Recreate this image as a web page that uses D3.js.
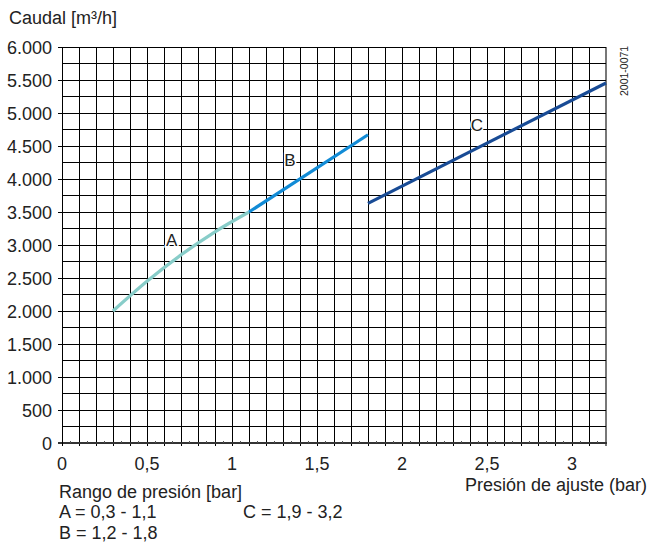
<!DOCTYPE html>
<html>
<head>
<meta charset="utf-8">
<script src="https://cdn.jsdelivr.net/npm/d3@7"></script>
<style>
body { margin: 0; background: #fff; }
text { font-family: "Liberation Sans", Arial, sans-serif; fill: #222; }
</style>
</head>
<body>
<div id="chart"></div>
<script>
// curve data
const curveA = [[0.3, 2000], [0.5, 2450], [0.7, 2850], [0.9, 3200], [1.1, 3500]];
const curveB = [[1.1, 3500], [1.8, 4670]];
const curveC = [[1.8, 3630], [3.2, 5455]];
const curveNames = ["A", "B", "C"];
const labelPos = [[0.645, 2990], [1.34, 4190], [2.44, 4730]];
const yTicks = [0, 500, 1000, 1500, 2000, 2500, 3000, 3500, 4000, 4500, 5000, 5500, 6000];
const xTicks = [0, 0.5, 1, 1.5, 2, 2.5, 3];

const W = 652, H = 542;
const svg = d3.select("#chart").append("svg").attr("width", W).attr("height", H);

const x = d3.scaleLinear().domain([0, 3.2]).range([62, 606]);
const y = d3.scaleLinear().domain([0, 6000]).range([443, 47]);

const grid = svg.append("g").attr("shape-rendering", "crispEdges");
// vertical grid every 0.1 bar
grid.selectAll(".vg").data(d3.range(1, 33).map(i => i / 10))
    .enter().append("line")
    .attr("x1", d => x(d)).attr("x2", d => x(d))
    .attr("y1", y(6000)).attr("y2", y(0) + 3)
    .attr("stroke", d => Math.abs(d - 3.2) < 1e-6 ? "#777" : "#000")
    .attr("stroke-width", d => Math.abs(d - 3.2) < 1e-6 ? 2 : 1);
// horizontal grid every 250
grid.selectAll(".hg").data(d3.range(1, 25).map(i => i * 250))
    .enter().append("line")
    .attr("x1", x(0)).attr("x2", x(3.2))
    .attr("y1", d => y(d)).attr("y2", d => y(d))
    .attr("stroke", "#000");
// left ticks at labelled values
grid.selectAll(".yt").data(yTicks)
    .enter().append("line")
    .attr("x1", x(0) - 4).attr("x2", x(0))
    .attr("y1", d => y(d)).attr("y2", d => y(d))
    .attr("stroke", "#000");
// bottom axis and small half ticks
grid.append("line").attr("x1", x(0) - 4).attr("x2", x(3.2) + 1)
    .attr("y1", y(0)).attr("y2", y(0)).attr("stroke", "#333").attr("stroke-width", 1.5);
grid.append("line").attr("x1", x(0)).attr("x2", x(0))
    .attr("y1", y(6000)).attr("y2", y(0) + 3).attr("stroke", "#000");
grid.selectAll(".mt").data(d3.range(0, 32).map(i => i / 10 + 0.05))
    .enter().append("line")
    .attr("x1", d => x(d)).attr("x2", d => x(d))
    .attr("y1", y(0) - 2).attr("y2", y(0))
    .attr("stroke", "#555");

// tick labels
svg.selectAll(".yl").data(yTicks)
    .enter().append("text")
    .attr("x", 52).attr("y", d => y(d) + 6.5)
    .attr("text-anchor", "end").attr("font-size", "18px")
    .text(d => d3.format(",")(d).replace(",", "."));
svg.selectAll(".xl").data(xTicks)
    .enter().append("text")
    .attr("x", d => x(d)).attr("y", 470)
    .attr("text-anchor", "middle").attr("font-size", "18px")
    .text(d => String(d).replace(".", ","));

// curves
const line = d3.line().x(d => x(d[0])).y(d => y(d[1])).curve(d3.curveMonotoneX);
const colors = ["#88cdc9", "#118bd6", "#184b95"];
[curveA, curveB, curveC].forEach((c, i) => {
    svg.append("path").datum(c).attr("d", line)
        .attr("fill", "none").attr("stroke", colors[i]).attr("stroke-width", 3.2);
});
svg.selectAll(".cl").data(curveNames)
    .enter().append("text")
    .attr("x", (d, i) => x(labelPos[i][0])).attr("y", (d, i) => y(labelPos[i][1]))
    .attr("text-anchor", "middle").attr("font-size", "17px")
    .attr("stroke", "#fff").attr("stroke-width", 3).attr("paint-order", "stroke")
    .text(d => d);

// texts
svg.append("text").attr("x", 9).attr("y", 24).attr("font-size", "18px").text("Caudal [m³/h]");
svg.append("text").attr("transform", "translate(628,96) rotate(-90)")
    .attr("font-size", "10.5px").text("2001-0071");
svg.append("text").attr("x", 647).attr("y", 491).attr("text-anchor", "end")
    .attr("font-size", "18px").text("Presión de ajuste (bar)");
svg.append("text").attr("x", 59).attr("y", 498).attr("font-size", "18px").text("Rango de presión [bar]");
svg.append("text").attr("x", 59).attr("y", 518).attr("font-size", "18px").text("A = 0,3 - 1,1");
svg.append("text").attr("x", 243).attr("y", 518).attr("font-size", "18px").text("C = 1,9 - 3,2");
svg.append("text").attr("x", 59).attr("y", 539).attr("font-size", "18px").text("B = 1,2 - 1,8");
</script>
</body>
</html>
